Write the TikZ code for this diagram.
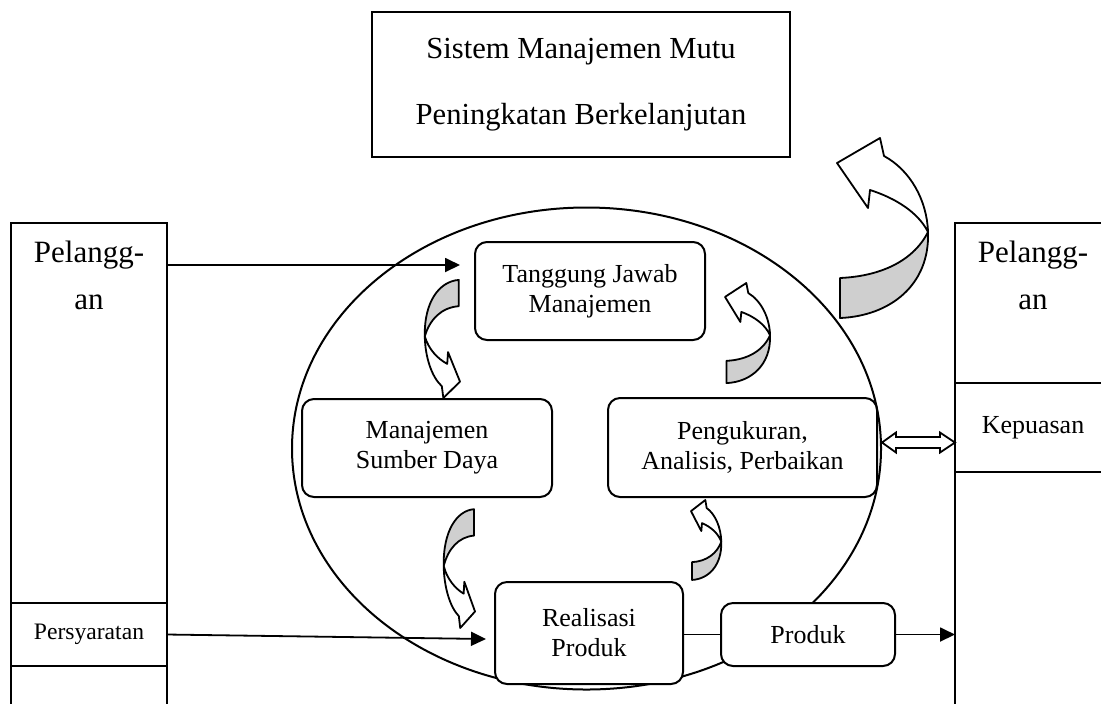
\documentclass[tikz,border=0pt]{standalone}
\usepackage{fontspec}
\setmainfont{Liberation Serif}
\usetikzlibrary{positioning,arrows.meta,shapes.geometric}
\definecolor{backgray}{HTML}{CFCFCF}
\tikzset{
  panel/.style={draw,rounded corners=6pt,fill=white,line width=1pt,align=center,inner sep=0pt,outer sep=0pt,font=\fontsize{13}{15}\selectfont},
  plainbox/.style={draw,fill=white,line width=1.1pt,inner sep=0pt,outer sep=0pt,align=center},
  custtxt/.style={inner sep=0pt,align=center,font=\fontsize{15.5}{23.5}\selectfont},
  flow/.style={-{Triangle[length=7.5pt,width=7pt]},line width=0.9pt},
  link/.style={line width=0.9pt},
  wide/.style={draw,fill=white,line width=0.9pt,line join=miter},
  turnarrow/.pic={
    \filldraw[fill=backgray,line width=0.9pt,line join=round] (3,140) -- (3,180)
      .. controls (53,178) and (93,147) .. (91,94)
      .. controls (78,120) and (48,138) .. (3,140) -- cycle;
    \filldraw[fill=white,line width=0.9pt,line join=round] (0,25) -- (43,0) -- (47,18)
      .. controls (73,32) and (90,62) .. (91,94)
      .. controls (81,74) and (58,60) .. (33,52) -- (31,70) -- cycle;
  },
}
\begin{document}
\begin{tikzpicture}[x=0.5pt,y=-0.5pt]
\useasboundingbox (0,0) rectangle (1101,703);
% quality cycle
\node[draw,ellipse,line width=1pt,minimum width=294.5pt,minimum height=241pt,inner sep=0pt] (qms) at (586.5,448.5) {};
% title
\node[plainbox,minimum width=209pt,minimum height=72.5pt,font=\fontsize{15.3}{33}\selectfont] (title) at (581,84.5)
  {Sistem Manajemen Mutu\\Peningkatan Berkelanjutan};
% customers
\node[plainbox,anchor=north,minimum width=78pt,minimum height=250pt] (custL) at (89,223) {};
\node[plainbox,anchor=north,minimum width=78pt,minimum height=250pt] (custR) at (1033,223) {};
\node[custtxt,below=9pt of custL.north] (custLtxt) {Pelangg-\\an};
\node[custtxt,below=9pt of custR.north] (custRtxt) {Pelangg-\\an};
\node[plainbox,minimum width=78pt,minimum height=31.5pt,font=\fontsize{11.8}{14}\selectfont] (req) at (89,634.5) {Persyaratan};
\node[plainbox,minimum width=78pt,minimum height=44.5pt,font=\fontsize{13}{15}\selectfont] (sat) at (1033,427.5) {Kepuasan};
% process
\node[panel,minimum width=115pt,minimum height=49pt] (tjm) at (590,291) {Tanggung Jawab\\Manajemen};
\node[panel,minimum width=125pt,minimum height=49pt] (msd) at (427,448) {Manajemen\\Sumber Daya};
\node[panel,minimum width=134.5pt,minimum height=49.5pt] (pak) at (742.5,447.5) {Pengukuran,\\Analisis, Perbaikan};
\node[panel,minimum width=94pt,minimum height=51pt] (rp) at (589,633) {Realisasi\\Produk};
\node[panel,minimum width=87pt,minimum height=31.5pt] (prod) at (808,634.5) {Produk};
% connectors
\coordinate (inTJ) at (460,265);
\coordinate (inRP) at (486,639);
\draw[flow] (custL.east |- inTJ) -- (inTJ);
\draw[flow] (req.east) -- (inRP);
\draw[link] (rp.east |- prod.west) -- (prod.west);
\draw[flow] (prod.east) -- (prod.east -| custR.west);
\draw[wide] ([xshift=2.5pt,yshift=2.5pt]pak.east) --++(14,-10) --++(0,4.5) --++(44,0) --++(0,-4.5)
  --++(15,10) --++(-15,10) --++(0,-4.5) --++(-44,0) --++(0,4.5) -- cycle;
% turning arrows
\pic[shift={(837,138)}] {turnarrow};
\pic[shift={(725,283)},xscale=0.495,yscale=0.556] {turnarrow};
\pic[shift={(691,500)},xscale=0.333,yscale=0.444] {turnarrow};
\pic[shift={(460,398)},rotate=180,xscale=0.387,yscale=0.656] {turnarrow};
\pic[shift={(475,628)},rotate=180,xscale=0.344,yscale=0.66] {turnarrow};
\end{tikzpicture}
\end{document}
